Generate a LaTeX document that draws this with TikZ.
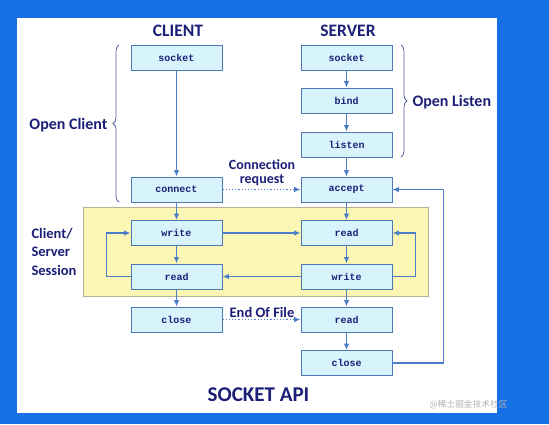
\documentclass[tikz,border=0pt]{standalone}
\usepackage{fontspec}
\setmainfont{Carlito}
\setmonofont{Liberation Mono}
\newfontfamily\cjk{Noto Sans CJK SC}
\usetikzlibrary{arrows.meta}
\usetikzlibrary{decorations.pathreplacing}
\definecolor{bgblue}{HTML}{1670E6}
\definecolor{navy}{HTML}{1C1F78}
\definecolor{boxfill}{HTML}{D7F4FC}
\definecolor{boxline}{HTML}{4F78B0}
\definecolor{flowblue}{HTML}{4B7EC6}
\definecolor{sessionfill}{HTML}{FCF6B4}
\definecolor{sessionline}{HTML}{B4B196}
\definecolor{bracecol}{HTML}{5A64A0}

\begin{document}
\begin{tikzpicture}[x=1pt,y=-1pt,
        apibox/.style={draw=boxline,fill=boxfill,line width=0.9pt,minimum width=91pt,minimum height=25pt,inner sep=0pt,text=navy,font=\ttfamily\bfseries\fontsize{10}{10}\selectfont},
        flow/.style={draw=flowblue,line width=1.2pt,-{Latex[length=6.5pt,width=5.5pt]}},
        msg/.style={flow,dotted},
        label/.style={text=navy,font=\bfseries\fontsize{16}{18}\selectfont},
        brc/.style={draw=bracecol,line width=0.8pt,decorate,decoration={brace,amplitude=6pt}}]%
    \useasboundingbox (0,0) rectangle (549,424);%
    \fill[bgblue] (0,0) rectangle (549,424);%
    \fill[white] (17,18) rectangle (497,413);%
    \draw[sessionline,fill=sessionfill,line width=0.8pt] (83,207) rectangle (428,296);%
    % titles
    \node[label,font=\bfseries\fontsize{17.5}{20}\selectfont] (client) at (178,31) {CLIENT};%
    \node[label,font=\bfseries\fontsize{17.5}{20}\selectfont] (server) at (348,31) {SERVER};%
    % client side
    \node[apibox] (csocket) at (176.5,57.5) {socket};%
    \node[apibox] (cconnect) at (176.5,189.5) {connect};%
    \node[apibox] (cwrite) at (176.5,233) {write};%
    \node[apibox] (cread) at (176.5,276.5) {read};%
    \node[apibox] (cclose) at (176.5,319.5) {close};%
    % server side
    \node[apibox] (ssocket) at (346.5,57.5) {socket};%
    \node[apibox] (sbind) at (346.5,100.5) {bind};%
    \node[apibox] (slisten) at (346.5,144.5) {listen};%
    \node[apibox] (saccept) at (346.5,189.5) {accept};%
    \node[apibox] (sread) at (346.5,233) {read};%
    \node[apibox] (swrite) at (346.5,276.5) {write};%
    \node[apibox] (seof) at (346.5,319.5) {read};%
    \node[apibox] (sclose) at (346.5,363) {close};%
    % calls
    \draw[flow] (csocket) -- (cconnect);%
    \draw[flow] (cconnect) -- (cwrite);%
    \draw[flow] (cwrite) -- (cread);%
    \draw[flow] (cread) -- (cclose);%
    \draw[flow] (ssocket) -- (sbind);%
    \draw[flow] (sbind) -- (slisten);%
    \draw[flow] (slisten) -- (saccept);%
    \draw[flow] (saccept) -- (sread);%
    \draw[flow] (sread) -- (swrite);%
    \draw[flow] (swrite) -- (seof);%
    \draw[flow] (seof) -- (sclose);%
    \draw[flow] (cwrite) -- (sread);%
    \draw[flow] (swrite) -- (cread);%
    \draw[flow] (cread.west) -- ++(-24,0) |- (cwrite.west);%
    \draw[flow] (swrite.east) -- ++(23,0) |- (sread.east);%
    \draw[flow] (sclose.east) -- ++(51,0) |- (saccept.east);%
    \draw[msg] (cconnect) -- (saccept);%
    \draw[msg] (cclose) -- (seof);%
    \node[label,font=\bfseries\fontsize{14}{13.5}\selectfont,align=center] (connreq) at (262,172.5) {Connection\\request};%
    \node[label,font=\bfseries\fontsize{14.5}{16}\selectfont] (eof) at (262,312) {End Of File};%
    % braces
    \draw[brc] (119,202) -- (119,45);%
    \draw[brc] (401,45) -- (401,157);%
    \node[label,anchor=east] (openclient) at (111,125) {Open Client};%
    \node[label,anchor=west] (openlisten) at (409,102) {Open Listen};%
    \node[label,font=\bfseries\fontsize{14.5}{18.5}\selectfont,align=left,anchor=west] (session) at (28,251.5) {Client/\\Server\\Session};%
    \node[label,font=\bfseries\fontsize{21}{24}\selectfont] (title) at (258.5,395) {SOCKET API};%
    \node[text=black!30,font=\cjk\fontsize{8.7}{10}\selectfont,anchor=east] (mark) at (511,405) {@稀土掘金技术社区};%
\end{tikzpicture}
\end{document}
